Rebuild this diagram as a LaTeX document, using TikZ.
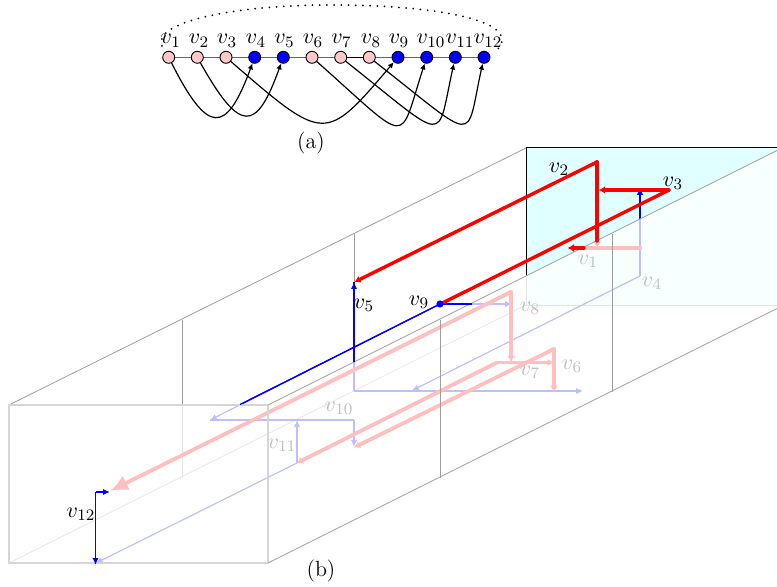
\documentclass[tikz,border=0pt]{standalone}
\usetikzlibrary{arrows.meta}
\definecolor{facecy}{RGB}{224,255,255}
\definecolor{paleline}{gray}{0.62}
\definecolor{frontline}{gray}{0.84}
\tikzset{
  vtx/.style={circle,draw=black,line width=0.45pt,inner sep=0pt,minimum size=6pt},
  pinkv/.style={vtx,fill=pink!85!white},
  bluev/.style={vtx,fill=blue},
  lab/.style={inner sep=0pt,font=\fontsize{11}{13}\selectfont},
  arc/.style={black,line width=0.6pt,-{Latex[length=3pt,width=2.8pt]}},
  boxline/.style={draw=paleline,line width=0.4pt},
  frontbox/.style={draw=frontline,line width=0.6pt},
  redl/.style={red,line width=1.7pt,line cap=round,line join=round},
  redar/.style={redl,-{Latex[length=3pt,width=3.8pt]}},
  hidred/.style={red,line width=1.9pt,line cap=round,line join=round},
  hidredar/.style={hidred,-{Latex[length=3pt,width=3.8pt]}},
  hidblue/.style={blue,line width=0.6pt},
  hidbluear/.style={hidblue,-{Latex[length=3.4pt,width=3pt]}},
  bluel/.style={blue,line width=0.8pt},
  bluear/.style={bluel,-{Latex[length=3.4pt,width=3pt]}},
  veil/.style={fill=white,fill opacity=0.75,draw=none}
}
\begin{document}
\begin{tikzpicture}[x=0.5pt,y=-0.5pt]
\useasboundingbox (0,0) rectangle (777,587);
\begin{scope}
\clip (0,0) rectangle (777,587);
% ---------- (a)
\draw[black,line width=1pt,line cap=round,dash pattern=on 0pt off 3.6pt] (162,46) .. controls (152,24) and (225,5) .. (332,5) .. controls (440,5) and (528,22) .. (495,52);
\foreach \n/\x/\s in {1/168.7/pinkv,2/197.3/pinkv,3/226/pinkv,4/254.7/bluev,5/283.3/bluev,6/312/pinkv,7/340.7/pinkv,8/369.3/pinkv,9/398/bluev,10/426.7/bluev,11/455.3/bluev,12/484/bluev}{
  \coordinate (c\n) at (\x,57.3);
}
\draw[black!60,line width=0.65pt] (c1) -- (c7);
\draw[black,line width=0.65pt] (c7) -- (c8);
\draw[black!60,line width=0.65pt] (c8) -- (c12);
\foreach \n/\x/\s in {1/168.7/pinkv,2/197.3/pinkv,3/226/pinkv,4/254.7/bluev,5/283.3/bluev,6/312/pinkv,7/340.7/pinkv,8/369.3/pinkv,9/398/bluev,10/426.7/bluev,11/455.3/bluev,12/484/bluev}{
  \node[\s] (v\n) at (c\n) {};
}
\foreach \n/\x in {1/170.7,2/199,3/227,4/256,5/284.5,6/313,7/341.5,8/371,9/399,10/431,11/460,12/488}{
  \node[lab,anchor=base] (l\n) at (\x,44) {$v_{\n}$};
}
\draw[arc] (v1) .. controls (208,135) and (226,135) .. (v4);
\draw[arc] (v2) .. controls (240,133) and (256,133) .. (v5);
\draw[arc] (v3) .. controls (325,143) and (325,143) .. (v9);
\draw[arc] (v6) .. controls (412,146) and (398,146) .. (v10);
\draw[arc] (v7) .. controls (450,144) and (436,144) .. (v11);
\draw[arc] (v8) .. controls (480,144) and (465,144) .. (v12);
\node[lab] (capa) at (311,143) {(a)};
\node[lab] (capb) at (321,571) {(b)};
% ---------- (b) back face and hidden parts
\fill[facecy] (526,148) rectangle (784,305);
\draw[boxline] (526,276) -- (526,305) -- (784,305);
\draw[black,line width=0.5pt] (526,276) -- (526,148) -- (784,148);
% box edges seen through the faces
\draw[boxline] (9,405) -- (526,148);
\draw[boxline] (182,320) -- (182,478);
\draw[boxline] (354,234) -- (354,392);
\draw[boxline] (9,563) -- (526,305);
% hidden pale paths, drawn at full colour and veiled below
\draw[hidbluear] (640,276) -- (640,188);
\draw[hidbluear] (640,276) -- (412,390.5);
\draw[hidblue] (354,282) -- (354,391);
\draw[hidbluear] (354,391) -- (583,391);
\draw[hidbluear] (440,304) -- (512,304);
\draw[hidbluear] (440,304) -- (210,420);
\draw[hidblue] (210,420) -- (354,420);
\draw[hidbluear] (354,420) -- (354,447);
\draw[hidbluear] (297,463) -- (297,420);
\draw[hidbluear] (297,463) -- (96,563);
\draw[hidredar] (640,248) -- (568,248);
\draw[hidredar] (597,162) -- (597,248);
\draw[hidredar] (511,292) -- (511,362);
\draw[hidred,-{Latex[length=9pt,width=8pt]}] (511,292) -- (110,491);
\draw[hidredar] (497,362.5) -- (553.5,362.5);
\draw[hidredar] (497,362.5) -- (297,463);
\draw[hidredar] (554,349) -- (554,392);
\draw[hidredar] (554,349) -- (354,447.5);
\node[lab] (lb1) at (588,261) {$v_{1}$};
\node[lab] (lb4) at (652,283) {$v_{4}$};
\node[lab] (lb8) at (530,308) {$v_{8}$};
\node[lab] (lb6) at (572,366) {$v_{6}$};
\node[lab] (lb7) at (530,372) {$v_{7}$};
\node[lab] (lb10) at (339,408) {$v_{10}$};
\node[lab] (lb11) at (282,445) {$v_{11}$};
% ---------- veils: front face and right-hand face
\path[veil] (9,405) rectangle (268,563);
\path[veil] (268,405) -- (784,147) -- (784,305) -- (268,563) -- cycle;
% edges in front of the veil
\draw[frontbox] (9,405) rectangle (268,563);
\draw[boxline] (268,405) -- (784,147);
\draw[boxline] (268,563) -- (784,305);
\draw[boxline] (440,320) -- (440,478);
\draw[boxline] (612,234) -- (612,392);
% ---------- visible paths
\draw[bluear] (354,362) -- (354,282);
\draw[bluear] (640,218) -- (640,188);
\draw[blue,line width=0.65pt] (440,304) -- (240,404.5);
\draw[blue,line width=0.65pt] (440,304) -- (472,304);
\draw[bluear] (95.5,492) -- (110,492);
\draw[bluear] (95.5,492) -- (95.5,565);
\draw[redl] (597,241) -- (597,162);
\draw[redar] (597,162) -- (354.5,282);
\draw[redar] (669,190) -- (599,190);
\draw[redl] (669,190) -- (440.5,304);
\draw[redar] (584,248) -- (568,248);
\node[bluev,draw=none,minimum size=3.6pt] (n9) at (440,304) {};
\node[lab] (lb2) at (559,169) {$v_{2}$};
\node[lab] (lb3) at (673,183) {$v_{3}$};
\node[lab] (lb5) at (364,305) {$v_{5}$};
\node[lab] (lb9) at (419,302) {$v_{9}$};
\node[lab] (lb12) at (81,514) {$v_{12}$};
\end{scope}
\end{tikzpicture}
\end{document}
